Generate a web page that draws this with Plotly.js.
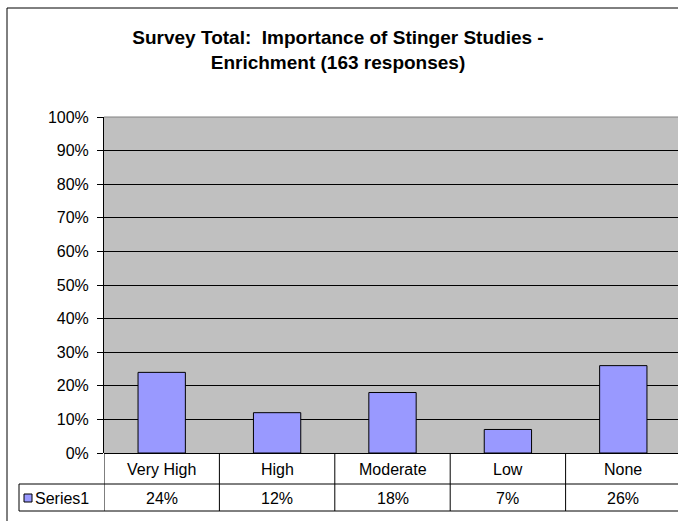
<!DOCTYPE html>
<html>
<head>
<meta charset="utf-8">
<script src="https://cdn.plot.ly/plotly-3.0.1.min.js"></script>
<style>
  html, body { margin: 0; padding: 0; overflow: hidden; background: #fff; }
  #chart { width: 681px; height: 521px; }
</style>
</head>
<body>
<div id="chart"></div>
<script>
// Data
const categories = ["Very High", "High", "Moderate", "Low", "None"];
const values = [0.24, 0.12, 0.18, 0.07, 0.26];
const valueLabels = ["24%", "12%", "18%", "7%", "26%"];
const seriesName = "Series1";
const yTickVals = [0, 0.1, 0.2, 0.3, 0.4, 0.5, 0.6, 0.7, 0.8, 0.9, 1.0];
const yTickText = ["0%", "10%", "20%", "30%", "40%", "50%", "60%", "70%", "80%", "90%", "100%"];

const W = 681, H = 521;
const mL = 104, mR = 0, mT = 117, mB = 68;
const plotW = W - mL - mR, plotH = H - mT - mB;
const px2x = (px) => (px - mL) / plotW;      // pixel x -> paper x
const px2y = (py) => (H - mB - py) / plotH;  // pixel y -> paper y

const FONT = "Liberation Sans, Arial, sans-serif";

const rowCatY = px2y(469);
const rowValY = px2y(498);
const rowLine1 = px2y(484);
const rowLine2 = px2y(511);
const tableLeft = px2x(19);

const shapes = [];
// outer chart border (top and left visible)
shapes.push({type: "line", xref: "paper", yref: "paper",
  x0: px2x(7), x1: px2x(W + 5), y0: px2y(8), y1: px2y(8),
  line: {color: "#000", width: 1}});
shapes.push({type: "line", xref: "paper", yref: "paper",
  x0: px2x(7), x1: px2x(7), y0: px2y(H + 5), y1: px2y(8),
  line: {color: "#000", width: 1}});
// plot top border (gray)
shapes.push({type: "line", xref: "paper", yref: "paper", x0: 0, x1: 1, y0: 1, y1: 1,
  line: {color: "#808080", width: 1}, layer: "above"});
// table horizontal lines
shapes.push({type: "line", xref: "paper", yref: "paper", x0: tableLeft, x1: 1.05, y0: rowLine1, y1: rowLine1,
  line: {color: "#000", width: 1}});
shapes.push({type: "line", xref: "paper", yref: "paper", x0: tableLeft, x1: 1.05, y0: rowLine2, y1: rowLine2,
  line: {color: "#000", width: 1}});
// table left vertical line (series label cell)
shapes.push({type: "line", xref: "paper", yref: "paper", x0: tableLeft, x1: tableLeft, y0: rowLine2, y1: rowLine1,
  line: {color: "#000", width: 1}});
// column separators
for (let i = 0; i <= categories.length; i++) {
  shapes.push({type: "line", xref: "x", yref: "paper", x0: i - 0.5, x1: i - 0.5, y0: rowLine2, y1: 0,
    line: {color: "#000", width: 1}});
}
// legend key box in table
shapes.push({type: "rect", xref: "paper", yref: "paper",
  x0: px2x(24), x1: px2x(32), y0: px2y(502), y1: px2y(494),
  line: {color: "#000", width: 1}, fillcolor: "#9999FF"});

const annotations = [];
categories.forEach((c, i) => {
  annotations.push({x: i, xref: "x", y: rowCatY, yref: "paper", text: c, showarrow: false,
    xanchor: "center", yanchor: "middle", font: {family: FONT, size: 16, color: "#000"}});
  annotations.push({x: i, xref: "x", y: rowValY, yref: "paper", text: valueLabels[i], showarrow: false,
    xanchor: "center", yanchor: "middle", font: {family: FONT, size: 16, color: "#000"}});
});
annotations.push({x: px2x(33), xref: "paper", y: rowValY, yref: "paper", text: seriesName, showarrow: false,
  xanchor: "left", yanchor: "middle", font: {family: FONT, size: 16, color: "#000"}});

const trace = {
  type: "bar",
  x: categories.map((c, i) => i),
  y: values,
  name: seriesName,
  marker: {color: "#9999FF", line: {color: "#000", width: 1}},
  hoverinfo: "skip"
};

const layout = {
  width: W, height: H,
  margin: {l: mL, r: mR, t: mT, b: mB, pad: 0},
  paper_bgcolor: "#fff",
  plot_bgcolor: "#C0C0C0",
  showlegend: false,
  bargap: 0.59,
  font: {family: FONT, size: 16, color: "#000"},
  title: {
    text: "<b>Survey Total:  Importance of Stinger Studies -<br>Enrichment (163 responses)</b>",
    font: {family: FONT, size: 19, color: "#000"},
    xref: "container", x: 338 / W, xanchor: "center",
    yref: "container", y: 1 - 44 / H, yanchor: "middle"
  },
  xaxis: {
    range: [-0.5, categories.length - 0.5],
    showticklabels: false, ticks: "", showgrid: false, zeroline: false,
    showline: false, fixedrange: true
  },
  yaxis: {
    range: [0, 1],
    tickvals: yTickVals, ticktext: yTickText,
    ticks: "outside", ticklen: 6, tickcolor: "#000", tickwidth: 1,
    ticklabelstandoff: 5,
    showline: true, linecolor: "#000", linewidth: 1,
    showgrid: true, gridcolor: "#000", gridwidth: 1,
    zeroline: true, zerolinecolor: "#000", zerolinewidth: 1,
    tickfont: {family: FONT, size: 16, color: "#000"},
    fixedrange: true
  },
  shapes: shapes,
  annotations: annotations
};

Plotly.newPlot("chart", [trace], layout, {displayModeBar: false, staticPlot: true});
</script>
</body>
</html>
